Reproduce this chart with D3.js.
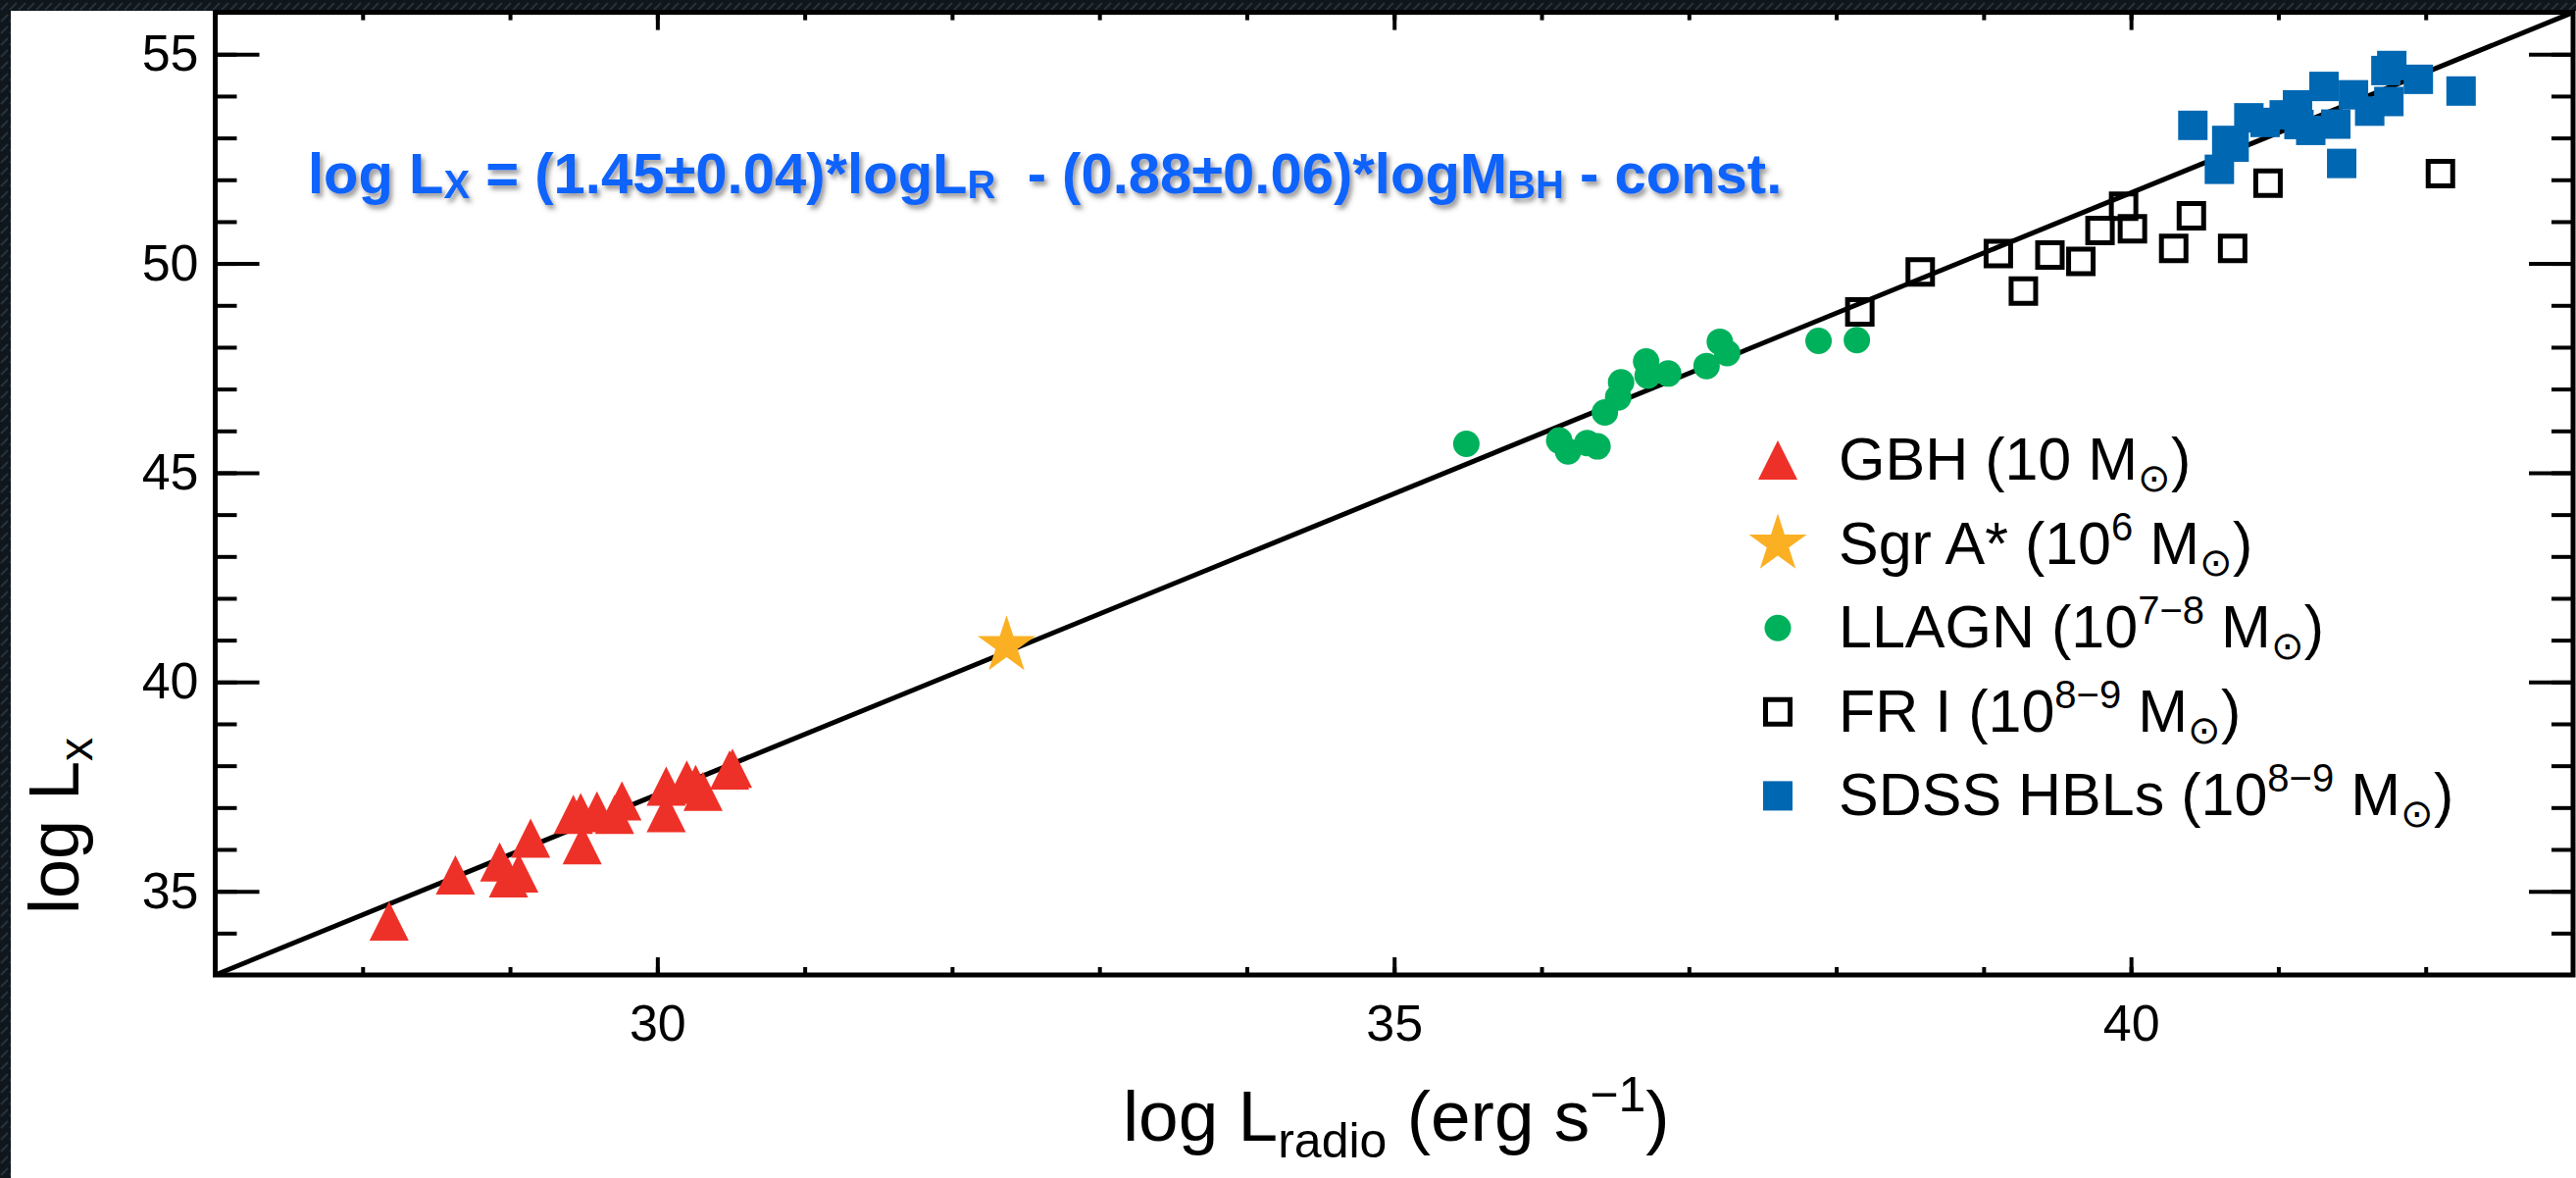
<!DOCTYPE html>
<html>
<head>
<meta charset="utf-8">
<script src="https://cdn.jsdelivr.net/npm/d3@7"></script>
<style>
  html, body { margin: 0; padding: 0; background: #0e1419; }
  svg { display: block; }
  text { font-family: "Liberation Sans", Arial, Helvetica, sans-serif; }
</style>
</head>
<body>
<div id="chart"></div>
<script>
//data (log luminosities)
const gbhX = [28.18, 28.63, 28.93, 28.99, 29.06, 29.14, 29.49, 29.43, 29.48, 29.59, 29.76, 29.71, 30.06, 30.06, 30.20, 30.26, 30.31, 30.49, 30.51];
const gbhY = [34.29, 35.39, 35.70, 35.32, 35.44, 36.27, 36.11, 36.84, 36.88, 36.92, 37.16, 36.84, 37.51, 36.88, 37.66, 37.55, 37.39, 37.90, 37.94];

const sgrX = [32.37];
const sgrY = [40.87];

const llagnX = [35.49, 36.12, 36.18, 36.31, 36.38, 36.43, 36.52, 36.54, 36.71, 36.72, 36.86, 37.12, 37.21, 37.26, 37.88, 38.14];
const llagnY = [45.69, 45.77, 45.51, 45.71, 45.63, 46.44, 46.80, 47.16, 47.66, 47.32, 47.37, 47.55, 48.13, 47.86, 48.15, 48.17];

const fr1X = [38.16, 38.57, 39.10, 39.27, 39.45, 39.66, 39.79, 39.95, 40.01, 40.29, 40.41, 40.69, 40.93, 42.10];
const fr1Y = [48.84, 49.80, 50.24, 49.34, 50.20, 50.05, 50.79, 51.37, 50.83, 50.36, 51.14, 50.36, 51.92, 52.15];

const hblX = [40.42, 40.60, 40.65, 40.70, 40.80, 40.91, 41.04, 41.13, 41.14, 41.22, 41.31, 41.39, 41.43, 41.51, 41.62, 41.73, 41.77, 41.75, 41.95, 42.24];
const hblY = [53.30, 52.25, 52.94, 52.78, 53.48, 53.37, 53.55, 53.79, 53.32, 53.18, 54.23, 53.33, 52.39, 54.03, 53.64, 54.61, 54.73, 53.87, 54.40, 54.12];

//fundamental plane fit, two end points
const fitX = [27, 43];
const fitY = [33, 56];

const xDomain = [27, 43],
    yDomain = [33, 56];
const xMajorTicks = [30, 35, 40],
    yMajorTicks = [35, 40, 45, 50, 55];

const legendNames = ["GBH", "Sgr A*", "LLAGN", "FR I", "SDSS HBLs"];
const legendExps = ["", "6", "7\u22128", "8\u22129", "8\u22129"];

//layout
const width = 2627,
    height = 1201;
const margin = {top: 12.6, right: 3, bottom: 207, left: 219.5};
const innerW = width - margin.left - margin.right,
    innerH = height - margin.top - margin.bottom;

const red = "#ee3128", gold = "#fbb024", green = "#00b15b", blue = "#0067b2", eqBlue = "#1163fb";

//custom marker shapes for d3.symbol
const triangleType = {
  draw(ctx, size) {
    const h = Math.sqrt(size);
    ctx.moveTo(0, -h / 2);
    ctx.lineTo(h / 2, h / 2);
    ctx.lineTo(-h / 2, h / 2);
    ctx.closePath();
  }
};
const starType = {
  draw(ctx, size) {
    const R = Math.sqrt(size), r = R * 0.382;
    for (let k = 0; k < 10; k++) {
      const a = -Math.PI / 2 + k * Math.PI / 5,
          rr = k % 2 ? r : R;
      if (k === 0) ctx.moveTo(rr * Math.cos(a), rr * Math.sin(a));
      else ctx.lineTo(rr * Math.cos(a), rr * Math.sin(a));
    }
    ctx.closePath();
  }
};

const series = [
  {xs: gbhX, ys: gbhY, type: triangleType, size: 1600, fill: red, stroke: "none", sw: 0},
  {xs: sgrX, ys: sgrY, type: starType, size: 961, fill: gold, stroke: "none", sw: 0},
  {xs: llagnX, ys: llagnY, type: d3.symbolCircle, size: Math.PI * 13.5 * 13.5, fill: green, stroke: "none", sw: 0},
  {xs: fr1X, ys: fr1Y, type: d3.symbolSquare, size: 25 * 25, fill: "none", stroke: "#000", sw: 5},
  {xs: hblX, ys: hblY, type: d3.symbolSquare, size: 30 * 30, fill: blue, stroke: "none", sw: 0}
];

let svg = d3.select("#chart").append("svg")
    .attr("width", width)
    .attr("height", height);

let defs = svg.append("defs");

//dark textured frame round the figure
let weave = defs.append("pattern")
    .attr("id", "weave")
    .attr("width", 18)
    .attr("height", 12)
    .attr("patternUnits", "userSpaceOnUse");
weave.append("rect").attr("width", 18).attr("height", 12).attr("fill", "#0f161c");
weave.append("path").attr("d", "M1,10 L8,3 M10,10 L17,3").attr("stroke", "#26313b").attr("stroke-width", 2);

let shadow = defs.append("filter")
    .attr("id", "shadow")
    .attr("x", "-5%").attr("y", "-30%")
    .attr("width", "110%").attr("height", "160%");
shadow.append("feDropShadow")
    .attr("dx", 3).attr("dy", 4)
    .attr("stdDeviation", 2.5)
    .attr("flood-color", "#444")
    .attr("flood-opacity", 0.55);

svg.append("rect").attr("width", width).attr("height", height).attr("fill", "url(#weave)");
svg.append("rect")
    .attr("x", 11).attr("y", 11)
    .attr("width", width - 11).attr("height", height - 11)
    .attr("fill", "#fff");

let g = svg.append("g")
    .attr("transform", "translate(" + margin.left + "," + margin.top + ")");

let x = d3.scaleLinear().domain(xDomain).range([0, innerW]);
let y = d3.scaleLinear().domain(yDomain).range([innerH, 0]);

//ticks: minor first, then major with labels
function styleAxis(sel) {
  sel.select(".domain").remove();
  sel.selectAll(".tick line").attr("stroke", "#000").attr("stroke-width", 4);
  sel.selectAll(".tick text")
      .attr("fill", "#000")
      .style("font-size", "52px");
}

const minorX = d3.range(xDomain[0] + 1, xDomain[1]),
    minorY = d3.range(yDomain[0] + 1, yDomain[1]);

g.append("g").attr("transform", "translate(0," + innerH + ")")
    .call(d3.axisBottom(x).tickValues(minorX).tickSize(-8).tickFormat(""))
    .call(styleAxis);
g.append("g").attr("transform", "translate(0," + innerH + ")")
    .call(d3.axisBottom(x).tickValues(xMajorTicks).tickSize(-18).tickPadding(30).tickFormat(d3.format("d")))
    .call(styleAxis);
g.append("g")
    .call(d3.axisTop(x).tickValues(minorX).tickSize(-8).tickFormat(""))
    .call(styleAxis);
g.append("g")
    .call(d3.axisTop(x).tickValues(xMajorTicks).tickSize(-18).tickFormat(""))
    .call(styleAxis);

g.append("g")
    .call(d3.axisLeft(y).tickValues(minorY).tickSize(-22).tickFormat(""))
    .call(styleAxis);
g.append("g")
    .call(d3.axisLeft(y).tickValues(yMajorTicks).tickSize(-45).tickPadding(17).tickFormat(d3.format("d")))
    .call(styleAxis);
g.append("g").attr("transform", "translate(" + innerW + ",0)")
    .call(d3.axisRight(y).tickValues(minorY).tickSize(-22).tickFormat(""))
    .call(styleAxis);
g.append("g").attr("transform", "translate(" + innerW + ",0)")
    .call(d3.axisRight(y).tickValues(yMajorTicks).tickSize(-45).tickFormat(""))
    .call(styleAxis);

//fit line
let line = d3.line()
    .x(function(d) { return x(d[0]); })
    .y(function(d) { return y(d[1]); });

g.append("path")
    .datum(d3.zip(fitX, fitY))
    .attr("d", line)
    .attr("fill", "none")
    .attr("stroke", "#000")
    .attr("stroke-width", 5);

//points
series.forEach(function(s) {
  g.append("g").selectAll("path")
      .data(d3.zip(s.xs, s.ys))
    .enter()
      .append("path")
      .attr("transform", function(d) { return "translate(" + x(d[0]) + "," + y(d[1]) + ")"; })
      .attr("d", d3.symbol().type(s.type).size(s.size))
      .attr("fill", s.fill)
      .attr("stroke", s.stroke)
      .attr("stroke-width", s.sw);
});

//frame
g.append("rect")
    .attr("width", innerW)
    .attr("height", innerH)
    .attr("fill", "none")
    .attr("stroke", "#000")
    .attr("stroke-width", 5);

//rich text helper: parts are [text, "", "sub" or "sup"]
function rich(text, parts, size, subSize, subShift, supShift) {
  let shift = 0;
  parts.forEach(function(p) {
    const target = p[1] === "sub" ? subShift : p[1] === "sup" ? -supShift : 0;
    text.append("tspan")
        .attr("dy", target - shift)
        .style("font-size", (p[1] ? subSize : size) + "px")
        .text(p[0]);
    shift = target;
  });
}

//axis titles
let xTitle = svg.append("text")
    .attr("x", margin.left + innerW / 2 + 2)
    .attr("y", 1163)
    .attr("text-anchor", "middle")
    .attr("fill", "#000");
rich(xTitle, [["log L", ""], ["radio", "sub"], [" (erg s", ""], ["\u22121", "sup"], [")", ""]], 73, 50, 17, 30);

let yTitle = svg.append("text")
    .attr("transform", "translate(80,842) rotate(-90)")
    .attr("text-anchor", "middle")
    .attr("fill", "#000");
rich(yTitle, [["log L", ""], ["x", "sub"]], 72, 48, 14, 0);

//equation
let eq = svg.append("text")
    .attr("x", 314)
    .attr("y", 197)
    .attr("fill", eqBlue)
    .attr("font-weight", "bold")
    .attr("filter", "url(#shadow)");
rich(eq, [["log L", ""], ["X", "sub"], [" = (1.45\u00b10.04)*logL", ""], ["R", "sub"],
  ["\u00a0\u00a0- (0.88\u00b10.06)*logM", ""], ["BH", "sub"], [" - const.", ""]], 58, 40, 5, 0);

//legend
const legendX = 1813, legendTextX = 1875, legendY0 = 469, legendStep = 85.6;

let legend = svg.selectAll(".legend")
    .data(series)
  .enter()
    .append("g")
    .attr("class", "legend")
    .attr("transform", function(d, i) {
      return "translate(" + legendX + "," + (legendY0 + i * legendStep) + ")";
    });

legend.append("path")
    .attr("d", function(d) { return d3.symbol().type(d.type).size(d.size)(); })
    .attr("fill", function(d) { return d.fill; })
    .attr("stroke", function(d) { return d.stroke; })
    .attr("stroke-width", function(d) { return d.sw; });

legend.append("text")
    .attr("x", legendTextX - legendX)
    .attr("y", 20)
    .attr("fill", "#000")
    .each(function(d, i) {
      let parts = [[legendNames[i] + " (10", ""]];
      if (legendExps[i]) parts.push([legendExps[i], "sup"]);
      parts.push([" M", ""], ["\u2299", "sub"], [")", ""]);
      rich(d3.select(this), parts, 61, 40, 12, 24);
    });
</script>
</body>
</html>
